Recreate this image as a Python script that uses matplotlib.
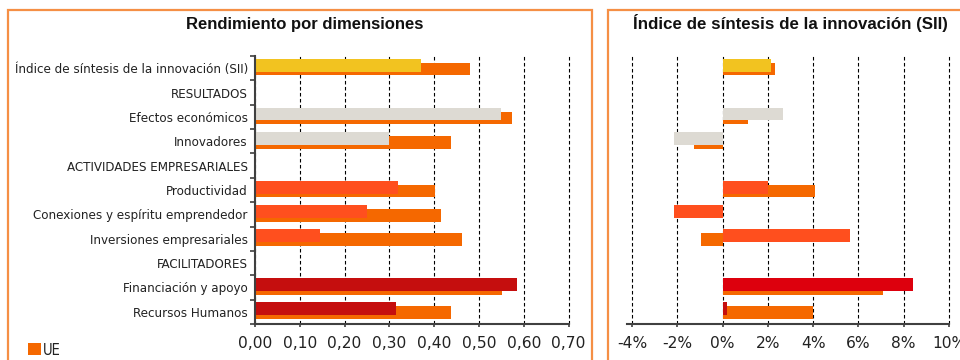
import matplotlib
matplotlib.use("Agg")
import matplotlib.pyplot as plt
import numpy as np
from matplotlib import font_manager
from matplotlib.font_manager import FontProperties
from matplotlib.patches import Rectangle
from matplotlib.ticker import FixedLocator, FuncFormatter

# ---- data -------------------------------------------------------------
categories = [
    "Índice de síntesis de la innovación (SII)",
    "RESULTADOS",
    "Efectos económicos",
    "Innovadores",
    "ACTIVIDADES EMPRESARIALES",
    "Productividad",
    "Conexiones y espíritu emprendedor",
    "Inversiones empresariales",
    "FACILITADORES",
    "Financiación y apoyo",
    "Recursos Humanos",
]
# performance scores (None = section heading, no bar)
country_score = [0.371, None, 0.550, 0.300, None, 0.320, 0.251, 0.145, None, 0.586, 0.315]
eu_score = [0.481, None, 0.573, 0.438, None, 0.402, 0.416, 0.463, None, 0.552, 0.438]
# growth of the index, in percent
country_growth = [2.15, None, 2.68, -2.14, None, 2.00, -2.14, 5.64, None, 8.39, 0.21]
eu_growth = [2.29, None, 1.14, -1.25, None, 4.10, 0.00, -0.94, None, 7.10, 4.01]

score_ticks = [0.0, 0.1, 0.2, 0.3, 0.4, 0.5, 0.6, 0.7]
growth_ticks = [-4, -2, 0, 2, 4, 6, 8, 10]

left_title = "Rendimiento por dimensiones"
right_title = "Índice de síntesis de la innovación (SII)"
legend_label = "UE"

# ---- styles -----------------------------------------------------------
EU_COLOR = "#F56800"
YELLOW = "#F2C320"
GREY = "#DDDAD3"
RED_ORANGE = "#FF4F1E"
DARK_RED = "#C50E0E"
BRIGHT_RED = "#DD000D"
BORDER = "#F58F45"
SPINE = "#404040"
TEXT = "#222222"

left_colors = [YELLOW, None, GREY, GREY, None, RED_ORANGE, RED_ORANGE, RED_ORANGE,
               None, DARK_RED, DARK_RED]
right_colors = [YELLOW, None, GREY, GREY, None, RED_ORANGE, RED_ORANGE, RED_ORANGE,
                None, BRIGHT_RED, DARK_RED]

TITLE_FONT = ["Liberation Sans", "DejaVu Sans"]
TICK_FONT = ["DejaVu Sans"]

FRONT_H, FRONT_OFF = 0.53, -0.12
BACK_H, BACK_OFF = 0.52, 0.04

W, H = 960, 360
fig = plt.figure(figsize=(W / 100, H / 100), dpi=100)


def label_font():
    """Prefer a narrow/condensed sans face for the category labels."""
    for entry in font_manager.fontManager.ttflist:
        narrow = ("condensed" in str(entry.stretch).lower()
                  or "Narrow" in entry.name or "Condensed" in entry.name)
        regular = entry.style == "normal" and entry.weight in (400, "normal", "regular", "book")
        if narrow and regular and "Mono" not in entry.name and "Serif" not in entry.name:
            return FontProperties(fname=entry.fname)
    return FontProperties(family="Liberation Sans")


def fitted_size(fp, text, target_px, base=10.0):
    renderer = fig.canvas.get_renderer()
    probe = fp.copy()
    probe.set_size(base)
    w, _, _ = renderer.get_text_width_height_descent(text, probe, ismath=False)
    return base * target_px / w


label_fp = label_font()
label_fp.set_size(min(11.5, fitted_size(label_fp, "Recursos Humanos", 114.5)))


def px_to_fig(x0, y0, x1, y1):
    return [x0 / W, 1 - y1 / H, (x1 - x0) / W, (y1 - y0) / H]


ax_l = fig.add_axes(px_to_fig(255, 56, 568.5, 324))
ax_r = fig.add_axes(px_to_fig(626.5, 56, 949, 324))

n = len(categories)
ypos = np.arange(n)


def draw_bars(ax, front, back, colors):
    idx = [i for i in range(n) if front[i] is not None]
    ax.barh([ypos[i] + BACK_OFF for i in idx], [back[i] for i in idx],
            height=BACK_H, color=EU_COLOR, zorder=2, linewidth=0)
    ax.barh([ypos[i] + FRONT_OFF for i in idx], [front[i] for i in idx],
            height=FRONT_H, color=[colors[i] for i in idx], zorder=3, linewidth=0)


def style_axis(ax, ticks, fmt):
    ax.set_ylim(n - 0.5, -0.5)
    ax.xaxis.set_major_locator(FixedLocator(ticks))
    ax.xaxis.set_major_formatter(FuncFormatter(fmt))
    for t in ticks:
        ax.axvline(t, color="black", linestyle=(0, (3.2, 2.2)), linewidth=0.8,
                   zorder=1, clip_on=False)
    for s in ("top", "right"):
        ax.spines[s].set_visible(False)
    ax.spines["bottom"].set_color(SPINE)
    ax.spines["bottom"].set_linewidth(1.5)
    ax.spines["bottom"].set_zorder(4)
    ax.tick_params(axis="x", direction="out", length=2.5, width=1.2, color=SPINE,
                   pad=6, labelsize=11.2, labelcolor=TEXT)
    for lab in ax.get_xticklabels():
        lab.set_family(TICK_FONT)


# left panel: scores
draw_bars(ax_l, country_score, eu_score, left_colors)
ax_l.set_xlim(0, 0.7)
style_axis(ax_l, score_ticks, lambda v, p: f"{v:.2f}".replace(".", ","))
ax_l.spines["left"].set_color(SPINE)
ax_l.spines["left"].set_linewidth(1.5)
ax_l.spines["left"].set_zorder(4)
ax_l.yaxis.set_major_locator(FixedLocator(np.arange(-0.5, n, 1.0)))
ax_l.yaxis.set_major_formatter(FuncFormatter(lambda v, p: ""))
ax_l.yaxis.set_minor_locator(FixedLocator(ypos))
ax_l.set_yticklabels(categories, minor=True)
ax_l.tick_params(axis="y", which="major", direction="out", length=3.6, width=1.2, color=SPINE)
ax_l.tick_params(axis="y", which="minor", length=0, pad=5.2, labelcolor=TEXT)
for lab in ax_l.get_yticklabels(minor=True):
    lab.set_fontproperties(label_fp)

# right panel: growth
draw_bars(ax_r, country_growth, eu_growth, right_colors)
ax_r.set_xlim(-4.25, 10)
style_axis(ax_r, growth_ticks, lambda v, p: f"{v:.0f}%")
ax_r.spines["left"].set_visible(False)
ax_r.set_yticks([])

# panel frames
for (x0, x1) in [(8, 591.5), (608, 1100)]:
    fig.patches.append(Rectangle((x0 / W, -0.2), (x1 - x0) / W, 1.2 - 10 / H,
                                 transform=fig.transFigure, fill=False,
                                 edgecolor=BORDER, linewidth=1.6, zorder=0))

# titles
fig.text(304.5 / W, 1 - 29 / H, left_title, ha="center", va="baseline",
         fontsize=12, fontweight="bold", family=TITLE_FONT, color="#111111")
fig.text(790.5 / W, 1 - 29 / H, right_title, ha="center", va="baseline",
         fontsize=12.2, fontweight="bold", family=TITLE_FONT, color="#111111")

# legend (only the EU entry falls inside the frame)
fig.patches.append(Rectangle((28 / W, 1 - 355 / H), 12.5 / W, 12.5 / H,
                             transform=fig.transFigure, facecolor=EU_COLOR,
                             edgecolor="none"))
legend_fp = label_fp.copy()
legend_fp.set_size(10.5)
fig.text(42.5 / W, 1 - 355 / H, legend_label, ha="left", va="baseline",
         fontproperties=legend_fp, color=TEXT)

fig.savefig("out.png", dpi=100)
